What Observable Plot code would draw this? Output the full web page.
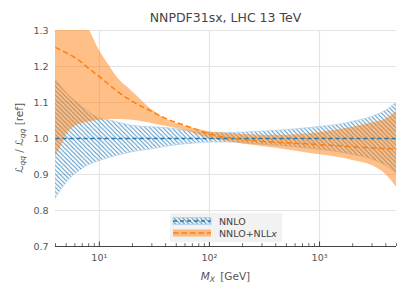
<!DOCTYPE html>
<html><head><meta charset="utf-8">
<script src="https://cdn.jsdelivr.net/npm/d3@7"></script>
<script src="https://cdn.jsdelivr.net/npm/@observablehq/plot@0.6"></script>
<style>
body{margin:0;background:#fff;}
#chart{width:408px;height:296px;}
</style></head><body><div id="chart"></div>
<script>
// invariant mass M_X [GeV]
const mx      = [4, 4.5, 5, 6, 7, 8, 10, 12, 15, 20, 30, 40, 60, 80, 100, 150, 200, 300, 500, 700, 1000, 1500, 2000, 3000, 4000, 5000];
// NNLO band (ratio to reference)
const nnloLo  = [0.832, 0.856, 0.876, 0.900, 0.915, 0.926, 0.937, 0.945, 0.953, 0.962, 0.970, 0.977, 0.984, 0.987, 0.989, 0.989, 0.987, 0.983, 0.978, 0.974, 0.969, 0.962, 0.955, 0.942, 0.925, 0.903];
const nnloMid = [1, 1, 1, 1, 1, 1, 1, 1, 1, 1, 1, 1, 1, 1, 1, 1, 1, 1, 1, 1, 1, 1, 1, 1, 1, 1];
const nnloHi  = [1.163, 1.145, 1.128, 1.105, 1.088, 1.074, 1.056, 1.051, 1.044, 1.035, 1.031, 1.029, 1.022, 1.017, 1.015, 1.015, 1.016, 1.019, 1.023, 1.027, 1.032, 1.038, 1.046, 1.060, 1.077, 1.099];
// NNLO+NLLx band
const nllxLo  = [0.950, 0.978, 1.008, 1.033, 1.041, 1.046, 1.051, 1.053, 1.053, 1.051, 1.042, 1.034, 1.022, 1.010, 1.001, 0.991, 0.985, 0.978, 0.969, 0.962, 0.955, 0.947, 0.939, 0.925, 0.900, 0.865];
const nllxMid = [1.253, 1.245, 1.238, 1.225, 1.210, 1.195, 1.172, 1.152, 1.128, 1.103, 1.075, 1.056, 1.036, 1.023, 1.013, 1.002, 0.997, 0.992, 0.988, 0.986, 0.983, 0.980, 0.977, 0.974, 0.972, 0.971];
const nllxHi  = [1.400, 1.385, 1.365, 1.345, 1.322, 1.303, 1.245, 1.207, 1.165, 1.130, 1.080, 1.054, 1.034, 1.025, 1.019, 1.014, 1.011, 1.009, 1.009, 1.012, 1.016, 1.024, 1.031, 1.043, 1.054, 1.074];
// ticks
const yTicks = [0.7, 0.8, 0.9, 1.0, 1.1, 1.2, 1.3];
const xMajor = [10, 100, 1000];
const xMajorLabels = {10: "10¹", 100: "10²", 1000: "10³"};
const xMinor = [4, 5, 6, 7, 8, 9, 20, 30, 40, 50, 60, 70, 80, 90, 200, 300, 400, 500, 600, 700, 800, 900, 2000, 3000, 4000, 5000];

const title = "NNPDF31sx, LHC 13 TeV";
const seriesNames = ["NNLO", "NNLO+NLL"];

const data = mx.map((x, i) => ({x, nlo: nnloLo[i], nmid: nnloMid[i], nhi: nnloHi[i], rlo: nllxLo[i], rmid: nllxMid[i], rhi: nllxHi[i]}));

const W = 408, H = 296, mL = 55, mR = 12, mT = 30, mB = 50;
const plotH = H - mT - mB;
const blue = "#1f77b4", orange = "#ff7f0e";
const FONT = "DejaVu Sans";

const svg = Plot.plot({
  width: W, height: H,
  marginLeft: mL, marginRight: mR, marginTop: mT, marginBottom: mB,
  style: {fontFamily: FONT, fontSize: "9.5px", color: "#555", background: "#fff", overflow: "visible"},
  x: {type: "log", domain: [4, 5000]},
  y: {domain: [0.7, 1.3]},
  marks: [
    Plot.gridY(yTicks, {stroke: "#e3e3e3", strokeOpacity: 1, strokeWidth: 1.1}),
    Plot.gridX(xMajor, {stroke: "#e3e3e3", strokeOpacity: 1, strokeWidth: 1.1}),
    Plot.areaY(data, {x: "x", y1: "nlo", y2: "nhi", curve: "monotone-x", fill: "url(#hatchBlue)", stroke: "#b5d2ea", strokeWidth: 0.8, clip: true}),
    Plot.areaY(data, {x: "x", y1: "rlo", y2: "rhi", curve: "monotone-x", fill: orange, fillOpacity: 0.5, clip: true}),
    Plot.lineY(data, {x: "x", y: "nmid", stroke: blue, strokeWidth: 1.5, strokeDasharray: "4,3", strokeLinecap: "butt"}),
    Plot.lineY(data, {x: "x", y: "rmid", curve: "monotone-x", stroke: orange, strokeWidth: 1.5, strokeDasharray: "5.5,3", strokeLinecap: "butt"}),
    Plot.ruleY([0.7], {stroke: "#444", strokeWidth: 1}),
    Plot.tickX(xMajor, {x: d => d, stroke: "#444", strokeWidth: 1, insetTop: plotH - 4.5}),
    Plot.tickX(xMinor, {x: d => d, stroke: "#444", strokeWidth: 0.8, insetTop: plotH - 2.8}),
    Plot.axisY(yTicks, {tickSize: 0, tickPadding: 7, label: null, fill: "#555", tickFormat: d => d.toFixed(1)}),
    Plot.axisX(xMajor, {tickSize: 0, tickPadding: 8, label: null, fill: "#555", tickFormat: d => xMajorLabels[d]})
  ]
});

const s = d3.select(svg);
s.insert("defs", ":first-child").html(
  `<pattern id="hatchBlue" patternUnits="userSpaceOnUse" width="4.4" height="4.4">
     <path d="M0,0 L4.4,4.4 M-1,3.4 L1,5.4 M3.4,-1 L5.4,1" stroke="${blue}" stroke-width="0.9" stroke-opacity="0.85"/>
   </pattern>`);

// title
s.append("text").attr("x", mL + (W - mL - mR) / 2).attr("y", 21.5)
  .attr("text-anchor", "middle").attr("font-family", FONT).attr("font-size", 12.5).attr("fill", "#444")
  .text(title);

// x label
const xl = s.append("text").attr("x", mL + (W - mL - mR) / 2).attr("y", 280)
  .attr("text-anchor", "middle").attr("font-family", FONT).attr("font-size", 10.5).attr("fill", "#555");
xl.append("tspan").attr("font-style", "italic").text("M");
xl.append("tspan").attr("font-style", "italic").attr("font-size", 7.5).attr("dy", 2).text("X");
xl.append("tspan").attr("dy", -2).text("\u2002[GeV]");

// y label
const yl = s.append("text").attr("transform", `translate(23,${mT + plotH / 2}) rotate(-90)`)
  .attr("text-anchor", "middle").attr("font-family", FONT).attr("font-size", 10.5).attr("fill", "#555");
yl.append("tspan").attr("font-style", "italic").text("\u2112");
yl.append("tspan").attr("font-style", "italic").attr("font-size", 7.5).attr("dy", 2).text("qq");
yl.append("tspan").attr("dy", -2).text(" / ");
yl.append("tspan").attr("font-style", "italic").text("\u2112");
yl.append("tspan").attr("font-style", "italic").attr("font-size", 7.5).attr("dy", 2).text("qq");
yl.append("tspan").attr("dy", -2).text(" [ref]");

// legend
const lg = s.append("g").attr("font-family", FONT).attr("font-size", 9.5).attr("fill", "#444").attr("text-anchor", "start");
lg.append("rect").attr("x", 170).attr("y", 213).attr("width", 112).attr("height", 29).attr("fill", "#f0f0f0").attr("fill-opacity", 0.85).attr("rx", 1.5);
lg.append("rect").attr("x", 173).attr("y", 217.5).attr("width", 38).attr("height", 7).attr("fill", "url(#hatchBlue)").attr("stroke", "#b5d2ea").attr("stroke-width", 0.8);
lg.append("line").attr("x1", 173).attr("x2", 211).attr("y1", 221).attr("y2", 221).attr("stroke", blue).attr("stroke-width", 1.5).attr("stroke-dasharray", "4,3");
lg.append("rect").attr("x", 173).attr("y", 229.5).attr("width", 38).attr("height", 7).attr("fill", orange).attr("fill-opacity", 0.5);
lg.append("line").attr("x1", 173).attr("x2", 211).attr("y1", 233).attr("y2", 233).attr("stroke", orange).attr("stroke-width", 1.5).attr("stroke-dasharray", "5.5,3");
lg.append("text").attr("x", 219).attr("y", 224.5).attr("text-anchor", "start").text(seriesNames[0]);
const t2 = lg.append("text").attr("x", 219).attr("y", 236.5).attr("text-anchor", "start");
t2.append("tspan").text(seriesNames[1]);
t2.append("tspan").attr("font-style", "italic").text("x");

document.getElementById("chart").appendChild(svg);
</script></body></html>
